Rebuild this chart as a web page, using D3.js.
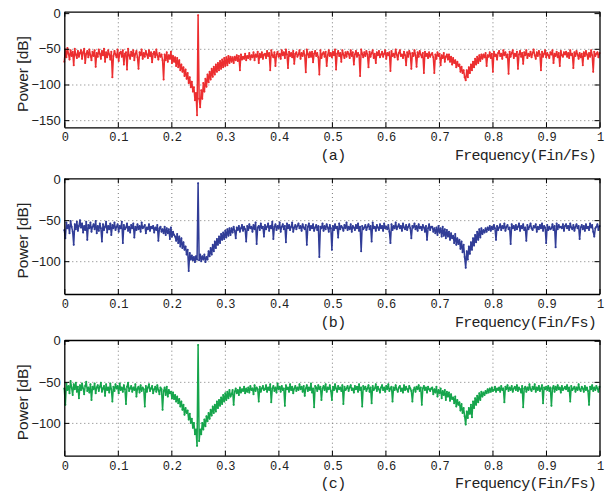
<!DOCTYPE html>
<html>
<head>
<meta charset="utf-8">
<script src="https://cdn.jsdelivr.net/npm/d3@7"></script>
<style>
  body { margin: 0; background: #fff; }
  .tick text { fill: #222; }
</style>
</head>
<body>
<div id="chart"></div>
<script>
// ---- data (power spectra in dB, 513 bins evenly spaced over 0..1 Fin/Fs) ----
const xTicks = [0, 0.1, 0.2, 0.3, 0.4, 0.5, 0.6, 0.7, 0.8, 0.9, 1];
const yTicksA = [0, -50, -100, -150];
const yTicksBC = [0, -50, -100];
const panelTags = ["(a)", "(b)", "(c)"];
const xLabel = "Frequency(Fin/Fs)";
const yLabel = "Power [dB]";

const seriesA = [
  -68, -51, -62, -49, -57, -65, -52, -60, -54, -73, -50, -58, -63, -53, -61, -56,
  -52, -64, -55, -50, -70, -57, -53, -62, -51, -59, -66, -54, -60, -52, -75, -56,
  -61, -51, -57, -64, -53, -59, -50, -68, -55, -62, -52, -58, -65, -54, -90, -60,
  -53, -58, -62, -51, -67, -56, -54, -61, -52, -72, -57, -55, -79, -50, -59, -64,
  -54, -60, -52, -66, -57, -53, -62, -78, -55, -59, -51, -64, -56, -61, -53, -58,
  -63, -52, -60, -55, -69, -57, -54, -62, -51, -59, -65, -56, -61, -58, -66, -93,
  -58, -66, -55, -68, -59, -64, -54, -70, -60, -68, -62, -74, -63, -76, -66, -80,
  -72, -82, -76, -88, -79, -92, -84, -98, -90, -104, -96, -110, -104, -122, -112, -143,
  -3, -120, -132, -108, -120, -98, -110, -92, -103, -86, -97, -82, -93, -78, -89, -75,
  -86, -72, -82, -70, -80, -67, -78, -65, -76, -63, -74, -62, -73, -60, -70, -61,
  -68, -62, -70, -61, -66, -59, -67, -60, -80, -58, -65, -61, -64, -57, -66, -60,
  -63, -56, -65, -59, -62, -55, -66, -58, -61, -54, -70, -57, -62, -55, -64, -58,
  -57, -63, -53, -60, -56, -80, -52, -59, -62, -55, -74, -58, -54, -61, -57, -64,
  -52, -59, -55, -63, -51, -58, -77, -54, -60, -56, -62, -53, -71, -57, -55, -61,
  -58, -52, -64, -56, -60, -53, -59, -83, -51, -57, -62, -55, -61, -54, -69, -57,
  -53, -60, -56, -62, -86, -52, -63, -57, -55, -61, -54, -74, -59, -52, -60, -56,
  -62, -54, -59, -51, -79, -57, -53, -60, -56, -68, -52, -58, -63, -55, -61, -54,
  -57, -63, -52, -60, -55, -72, -58, -53, -61, -56, -59, -88, -51, -57, -62, -55,
  -60, -53, -58, -76, -54, -61, -56, -52, -63, -57, -70, -55, -59, -53, -62, -58,
  -54, -61, -57, -52, -64, -56, -59, -55, -81, -53, -60, -57, -62, -51, -58, -65,
  -56, -52, -60, -58, -63, -54, -59, -73, -55, -61, -53, -57, -78, -56, -60, -52,
  -59, -75, -55, -61, -53, -58, -62, -56, -84, -54, -60, -57, -63, -55, -61, -58,
  -56, -62, -84, -58, -64, -55, -60, -57, -73, -59, -63, -56, -68, -61, -58, -65,
  -58, -68, -61, -72, -63, -70, -66, -76, -68, -74, -72, -82, -75, -84, -80, -90,
  -94, -80, -90, -76, -84, -72, -80, -68, -76, -64, -72, -61, -70, -59, -67, -58,
  -64, -58, -62, -56, -74, -59, -61, -55, -63, -57, -82, -54, -60, -58, -65, -56,
  -53, -60, -57, -64, -52, -59, -55, -62, -58, -85, -54, -61, -56, -52, -63, -57,
  -60, -54, -78, -58, -53, -61, -56, -71, -55, -59, -52, -63, -57, -60, -54, -62,
  -56, -51, -59, -64, -55, -60, -53, -58, -80, -54, -61, -57, -52, -62, -56, -59,
  -63, -55, -58, -52, -70, -57, -60, -54, -62, -56, -74, -53, -59, -61, -55, -58,
  -54, -61, -56, -63, -52, -59, -57, -77, -55, -60, -53, -58, -64, -56, -62, -57,
  -73, -55, -60, -53, -58, -64, -56, -61, -52, -59, -82, -54, -60, -57, -55, -62,
  -56
];

const seriesB = [
  -62, -72, -53, -60, -56, -66, -51, -58, -64, -80, -55, -61, -52, -63, -57, -50,
  -59, -54, -65, -57, -62, -52, -74, -56, -60, -53, -64, -58, -55, -61, -51, -66,
  -57, -63, -54, -60, -76, -55, -62, -58, -52, -65, -57, -61, -54, -68, -56, -60,
  -53, -62, -58, -55, -64, -57, -60, -52, -78, -56, -61, -59, -54, -63, -58, -65,
  -56, -60, -54, -71, -58, -62, -55, -61, -57, -64, -53, -60, -58, -56, -66, -59,
  -61, -55, -63, -58, -60, -57, -65, -59, -62, -56, -75, -60, -58, -64, -61, -66,
  -58, -68, -60, -66, -61, -73, -59, -70, -64, -68, -70, -75, -67, -78, -70, -82,
  -72, -84, -77, -86, -82, -92, -86, -112, -90, -98, -93, -99, -95, -101, -94, -98,
  -5, -99, -92, -100, -94, -98, -92, -101, -95, -98, -88, -94, -84, -92, -80, -88,
  -76, -84, -73, -80, -70, -78, -67, -74, -65, -73, -63, -71, -61, -69, -60, -68,
  -60, -65, -58, -63, -72, -59, -62, -57, -64, -60, -56, -63, -58, -61, -76, -57,
  -62, -55, -60, -58, -64, -56, -61, -53, -79, -59, -57, -62, -54, -60, -58, -70,
  -56, -61, -58, -54, -63, -57, -60, -52, -73, -58, -55, -62, -57, -60, -53, -64,
  -58, -55, -61, -57, -77, -54, -60, -56, -62, -58, -53, -64, -59, -56, -61, -57,
  -54, -60, -57, -63, -55, -59, -61, -56, -80, -58, -54, -62, -57, -60, -55, -63,
  -59, -56, -62, -57, -95, -58, -60, -54, -63, -57, -61, -55, -59, -64, -56, -60,
  -86, -57, -62, -55, -60, -58, -71, -54, -61, -57, -59, -63, -56, -60, -53, -62,
  -58, -61, -55, -64, -57, -59, -62, -56, -60, -54, -63, -58, -88, -57, -61, -59,
  -56, -62, -58, -55, -61, -57, -76, -53, -60, -58, -63, -56, -59, -62, -55, -60,
  -57, -63, -54, -60, -58, -61, -56, -64, -78, -55, -62, -57, -60, -53, -61, -58,
  -55, -60, -57, -63, -54, -59, -61, -56, -62, -58, -55, -60, -72, -57, -59, -54,
  -61, -57, -63, -55, -60, -58, -62, -56, -59, -64, -57, -74, -60, -55, -62, -58,
  -58, -64, -60, -66, -59, -68, -57, -65, -60, -70, -58, -69, -61, -72, -62, -70,
  -64, -74, -66, -72, -69, -78, -67, -80, -72, -79, -74, -85, -76, -89, -80, -95,
  -108, -88, -98, -82, -91, -77, -86, -72, -81, -68, -77, -64, -74, -61, -71, -60,
  -67, -62, -65, -60, -64, -59, -62, -57, -63, -58, -61, -56, -60, -74, -57, -62,
  -59, -55, -62, -57, -60, -54, -63, -58, -56, -61, -59, -79, -55, -60, -57, -62,
  -56, -61, -58, -54, -63, -57, -60, -55, -62, -59, -75, -56, -61, -58, -54, -60,
  -62, -57, -59, -55, -64, -58, -61, -56, -60, -54, -63, -57, -59, -78, -56, -62,
  -58, -61, -60, -55, -62, -57, -83, -54, -61, -56, -59, -58, -60, -55, -63, -57,
  -55, -60, -57, -62, -54, -59, -61, -56, -63, -58, -55, -60, -57, -73, -59, -56,
  -61, -57, -63, -55, -60, -58, -62, -54, -59, -56, -64, -70, -60, -58, -55, -62,
  -57
];

const seriesC = [
  -58, -78, -52, -60, -55, -64, -49, -57, -66, -53, -59, -51, -62, -56, -70, -54,
  -60, -52, -58, -65, -55, -50, -61, -57, -63, -53, -72, -56, -59, -52, -64, -57,
  -54, -61, -56, -51, -62, -58, -55, -67, -53, -60, -57, -63, -52, -59, -74, -56,
  -61, -53, -58, -55, -64, -52, -60, -57, -62, -54, -59, -77, -56, -51, -61, -58,
  -55, -62, -57, -60, -53, -68, -58, -56, -63, -54, -61, -57, -59, -80, -55, -62,
  -57, -53, -61, -58, -55, -64, -59, -56, -62, -54, -60, -65, -57, -59, -84, -61,
  -57, -66, -56, -68, -60, -64, -62, -70, -63, -71, -66, -74, -68, -76, -71, -80,
  -74, -84, -78, -90, -82, -88, -85, -96, -89, -100, -95, -106, -100, -114, -108, -128,
  -5, -122, -108, -114, -100, -108, -96, -104, -92, -98, -88, -95, -84, -91, -80, -88,
  -78, -86, -74, -82, -72, -79, -69, -77, -66, -74, -64, -72, -62, -70, -60, -68,
  -65, -60, -78, -62, -58, -64, -60, -66, -57, -63, -59, -61, -56, -64, -58, -62,
  -57, -63, -55, -60, -58, -65, -54, -61, -57, -59, -74, -56, -62, -58, -55, -60,
  -59, -54, -62, -57, -60, -53, -75, -58, -55, -61, -57, -63, -52, -59, -56, -62,
  -55, -60, -58, -79, -54, -59, -57, -62, -53, -60, -56, -64, -58, -55, -61, -57,
  -60, -53, -59, -56, -62, -55, -67, -58, -54, -61, -57, -60, -52, -63, -58, -81,
  -55, -57, -61, -54, -59, -56, -72, -58, -55, -60, -53, -62, -57, -59, -54, -61,
  -72, -56, -60, -53, -58, -62, -55, -59, -57, -61, -54, -77, -56, -60, -58, -55,
  -61, -57, -54, -60, -58, -63, -55, -59, -56, -62, -53, -60, -57, -80, -55, -59,
  -56, -61, -58, -54, -62, -57, -76, -55, -60, -58, -53, -61, -56, -59, -63, -57,
  -54, -60, -57, -62, -55, -59, -53, -61, -58, -56, -74, -57, -60, -54, -59, -62,
  -57, -55, -61, -58, -63, -54, -60, -56, -59, -62, -55, -58, -61, -74, -60, -57,
  -62, -56, -59, -54, -61, -57, -78, -58, -55, -60, -57, -63, -56, -59, -61, -58,
  -57, -65, -59, -63, -56, -68, -60, -64, -58, -70, -61, -66, -60, -72, -62, -68,
  -63, -73, -65, -71, -69, -76, -68, -80, -72, -78, -75, -85, -77, -88, -82, -92,
  -102, -86, -94, -82, -89, -78, -93, -74, -82, -70, -78, -67, -75, -64, -72, -62,
  -68, -63, -66, -61, -64, -59, -63, -58, -62, -57, -61, -60, -56, -62, -58, -60,
  -57, -62, -55, -60, -58, -75, -56, -59, -54, -61, -57, -60, -55, -62, -58, -56,
  -60, -54, -61, -57, -59, -63, -55, -81, -58, -56, -62, -57, -60, -53, -59, -61,
  -56, -59, -53, -62, -57, -60, -55, -61, -58, -54, -76, -57, -59, -56, -60, -55,
  -61, -57, -79, -58, -55, -62, -56, -60, -54, -59, -57, -63, -55, -60, -58, -56,
  -59, -54, -61, -57, -74, -55, -60, -58, -56, -62, -57, -60, -53, -59, -61, -56,
  -58, -62, -55, -60, -57, -61, -78, -56, -59, -54, -61, -57, -60, -55, -58, -62,
  -56
];

// ---- layout ----
const width = 608, height = 495;
const left = 64.3, right = 599.5;

const panels = [
  { values: seriesA, color: "#ec2e30", yDomain: [-160, 2], top: 11.7, bottom: 127.3, yTicks: yTicksA, tag: panelTags[0] },
  { values: seriesB, color: "#313d97", yDomain: [-140, 1], top: 178.3, bottom: 294, yTicks: yTicksBC, tag: panelTags[1] },
  { values: seriesC, color: "#16a54c", yDomain: [-140, 1], top: 340, bottom: 455.7, yTicks: yTicksBC, tag: panelTags[2] }
];

const svg = d3.select("#chart")
  .append("svg")
  .attr("width", width)
  .attr("height", height);

const monoFont = "'Liberation Mono', 'DejaVu Sans Mono', monospace";
const sansFont = "'Liberation Sans', Arial, sans-serif";

const xScale = d3.scaleLinear().domain([0, 1]).range([left, right]);
const xFormat = d => (d === 0 || d === 1) ? String(d) : d.toFixed(1);

panels.forEach(p => {
  const h = p.bottom - p.top;
  const yScale = d3.scaleLinear().domain(p.yDomain).range([p.bottom, p.top]);
  const g = svg.append("g");

  // dotted grid
  const grid = g.append("g").attr("class", "grid");
  grid.append("g")
    .attr("transform", `translate(0,${p.bottom})`)
    .call(d3.axisBottom(xScale).tickValues(xTicks.slice(1, -1)).tickSize(-h).tickFormat(""));
  grid.append("g")
    .attr("transform", `translate(${left},0)`)
    .call(d3.axisLeft(yScale).tickValues(p.yTicks.filter(v => v > p.yDomain[0] && v < p.yDomain[1] - 2)).tickSize(-(right - left)).tickFormat(""));
  grid.selectAll(".domain").remove();
  grid.selectAll(".tick line")
    .attr("stroke", "#7a7a7a")
    .attr("stroke-width", 1)
    .attr("stroke-dasharray", "1,3");

  // spectrum
  const n = p.values.length;
  const binX = d3.scaleLinear().domain([0, n - 1]).range([0, 1]);
  const line = d3.line()
    .x((d, i) => xScale(binX(i)))
    .y(d => yScale(d));
  g.append("path")
    .datum(p.values)
    .attr("fill", "none")
    .attr("stroke", p.color)
    .attr("stroke-width", 1.5)
    .attr("stroke-linejoin", "round")
    .attr("d", line);
  g.append("g")
    .selectAll("circle")
    .data(p.values)
    .join("circle")
    .attr("cx", (d, i) => xScale(binX(i)))
    .attr("cy", d => yScale(d))
    .attr("r", 1)
    .attr("fill", p.color);

  // frame and inward ticks
  const axB = g.append("g")
    .attr("transform", `translate(0,${p.bottom})`)
    .call(d3.axisBottom(xScale).tickValues(xTicks).tickSizeInner(-5).tickSizeOuter(0).tickPadding(5.5).tickFormat(xFormat));
  axB.selectAll("text")
    .attr("font-family", monoFont)
    .attr("font-size", 12)
    .attr("letter-spacing", "-1.2px");
  g.append("g")
    .attr("transform", `translate(0,${p.top})`)
    .call(d3.axisTop(xScale).tickValues(xTicks).tickSizeInner(-5).tickSizeOuter(0).tickFormat(""));
  const axL = g.append("g")
    .attr("transform", `translate(${left},0)`)
    .call(d3.axisLeft(yScale).tickValues(p.yTicks).tickSizeInner(-5).tickSizeOuter(0).tickPadding(3.5)
      .tickFormat(d => d < 0 ? "\u2212" + Math.abs(d) : String(d)));
  axL.selectAll("text")
    .attr("font-family", sansFont)
    .attr("font-size", 13);
  g.append("g")
    .attr("transform", `translate(${right},0)`)
    .call(d3.axisRight(yScale).tickValues(p.yTicks).tickSizeInner(-5).tickSizeOuter(0).tickFormat(""));
  g.selectAll(".domain").attr("stroke", "#000").attr("stroke-width", 1.3);
  g.selectAll(".tick line").filter(function () { return !this.closest(".grid"); })
    .attr("stroke", "#000");

  // labels
  g.append("text")
    .attr("transform", `translate(28,${(p.top + p.bottom) / 2 + 4.5}) rotate(-90)`)
    .attr("text-anchor", "middle")
    .attr("font-family", sansFont)
    .attr("font-size", 15.5)
    .attr("fill", "#222")
    .text(yLabel);
  g.append("text")
    .attr("x", 333)
    .attr("y", p.bottom + 32.5)
    .attr("text-anchor", "middle")
    .attr("font-family", monoFont)
    .attr("font-size", 15)
    .attr("letter-spacing", "-0.7px")
    .attr("fill", "#222")
    .text(p.tag);
  g.append("text")
    .attr("x", 596)
    .attr("y", p.bottom + 32.5)
    .attr("text-anchor", "end")
    .attr("font-family", monoFont)
    .attr("font-size", 15)
    .attr("letter-spacing", "-0.7px")
    .attr("fill", "#222")
    .text(xLabel);
});
</script>
</body>
</html>
